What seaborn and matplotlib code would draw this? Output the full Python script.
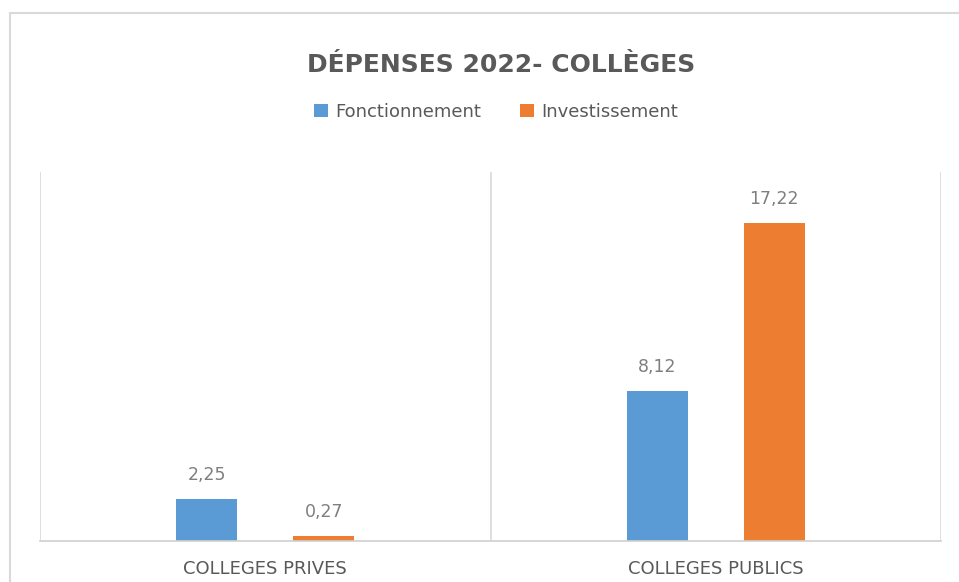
import matplotlib
matplotlib.use("Agg")
import matplotlib.pyplot as plt
import seaborn as sns
import pandas as pd
from matplotlib.patches import Rectangle, Patch
from matplotlib import font_manager

categories = ["COLLEGES PRIVES", "COLLEGES PUBLICS"]
series = ["Fonctionnement", "Investissement"]
fonctionnement = [2.25, 8.12]
investissement = [0.27, 17.22]
colors = ["#5B9BD5", "#ED7D31"]

df = pd.DataFrame({
    "cat": categories * 2,
    "serie": [series[0]] * 2 + [series[1]] * 2,
    "val": fonctionnement + investissement,
})

sns.set_theme(style="white")
plt.rcParams["font.family"] = ["DejaVu Sans"]

names = {f.name for f in font_manager.fontManager.ttflist}
narrow = "Liberation Sans Narrow" if "Liberation Sans Narrow" in names else "DejaVu Sans"
narrow_ok = narrow != "DejaVu Sans"

fig = plt.figure(figsize=(9.59, 5.82), dpi=100)
ax = fig.add_axes([40 / 959, 1 - 541 / 582, (941 - 40) / 959, (541 - 172) / 582])

sns.barplot(data=df, x="cat", y="val", hue="serie", order=categories,
            hue_order=series, palette=colors, width=0.52, ax=ax,
            legend=False, saturation=1, errorbar=None)

bw = 0.135
for p in ax.patches:
    cx = p.get_x() + p.get_width() / 2
    p.set_width(bw)
    p.set_x(cx - bw / 2)
    p.set_edgecolor("none")

for cont in ax.containers:
    labels = [f"{v:.2f}".replace(".", ",") for v in cont.datavalues]
    ax.bar_label(cont, labels=labels, padding=11, fontsize=12.5, color="#7F7F7F")

ax.set_xlim(-0.5, 1.5)
ax.set_ylim(0, 20)
ax.set_yticks([])
ax.set_xlabel("")
ax.set_ylabel("")
ax.set_xticks([0, 1])
ax.set_xticklabels(categories, fontsize=14 if narrow_ok else 13, color="#595959",
                   family=narrow)
ax.tick_params(axis="x", length=0, pad=14)
ax.set_xticks([-0.5, 0.5, 1.5], minor=True)
ax.tick_params(axis="x", which="minor", length=0)
ax.grid(True, axis="x", which="minor", color="#D9D9D9", linewidth=1.2)
ax.grid(False, axis="x", which="major")
ax.set_axisbelow(True)
for s in ["top", "left", "right"]:
    ax.spines[s].set_visible(False)
ax.spines["bottom"].set_color("#D0D0D0")
ax.spines["bottom"].set_linewidth(1.2)

fig.text(501 / 959, 1 - 65 / 582, "DÉPENSES 2022- COLLÈGES", ha="center", va="center",
         fontsize=21 if narrow_ok else 18, fontweight="bold", color="#595959",
         family=narrow)

handles = [Patch(facecolor=c, edgecolor="none") for c in colors]
fig.legend(handles, series, loc="center", bbox_to_anchor=(496 / 959, 1 - 112 / 582),
           ncol=2, frameon=False, handlelength=0.75, handleheight=0.75,
           handletextpad=0.4, columnspacing=2.2, labelcolor="#595959",
           prop={"family": narrow, "size": 15 if narrow_ok else 13})

fig.patches.append(Rectangle((10 / 959, -0.1), 1.2, 1.1 - 13 / 582,
                             transform=fig.transFigure, fill=False,
                             edgecolor="#D9D9D9", linewidth=1.5, zorder=0))

fig.savefig("out.png", dpi=100)
